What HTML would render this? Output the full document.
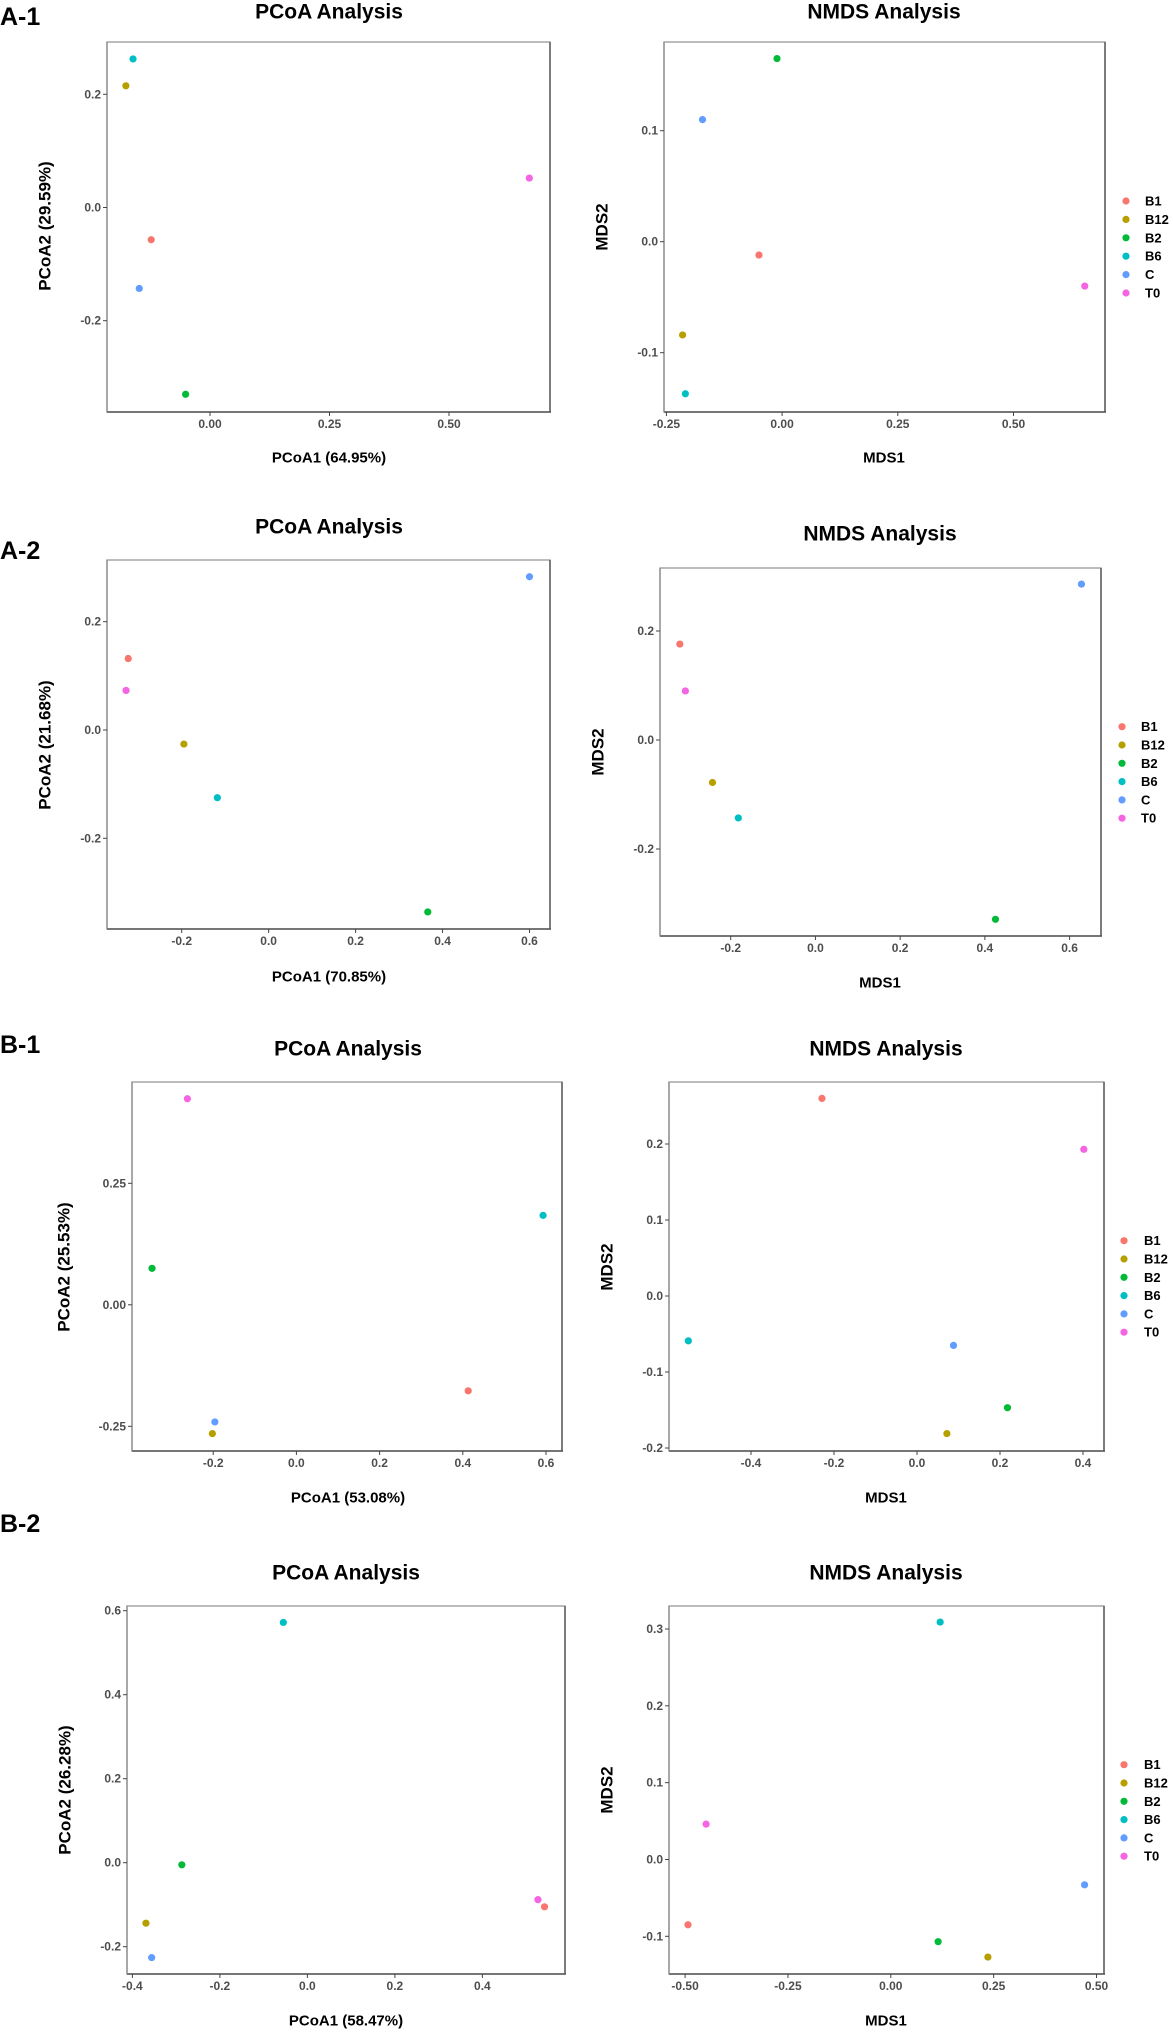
<!DOCTYPE html>
<html>
<head>
<meta charset="utf-8">
<style>
  html,body{margin:0;padding:0;background:#fff;}
  body{width:1173px;height:2032px;overflow:hidden;font-family:"Liberation Sans",Arial,sans-serif;}
  svg{display:block;}
</style>
</head>
<body>
<svg id="fig" width="1173" height="2032" viewBox="0 0 1173 2032" xmlns="http://www.w3.org/2000/svg"></svg>
<script>
// Groups and colours
const groups = ["B1","B12","B2","B6","C","T0"];
const colors = ["#F8766D","#B79F00","#00BA38","#00BFC4","#619CFF","#F564E3"];

// Data values, in group order: B1, B12, B2, B6, C, T0
const a1PcoaX = [-0.123,-0.176,-0.051,-0.161,-0.148,0.668];
const a1PcoaY = [-0.057,0.215,-0.330,0.2625,-0.143,0.052];
const a1NmdsX = [-0.050,-0.215,-0.011,-0.209,-0.172,0.654];
const a1NmdsY = [-0.012,-0.084,0.165,-0.137,0.110,-0.040];

const a2PcoaX = [-0.323,-0.195,0.366,-0.118,0.600,-0.328];
const a2PcoaY = [0.132,-0.026,-0.336,-0.125,0.283,0.073];
const a2NmdsX = [-0.320,-0.243,0.425,-0.182,0.628,-0.307];
const a2NmdsY = [0.176,-0.078,-0.329,-0.143,0.286,0.090];

const b1PcoaX = [0.413,-0.202,-0.347,0.593,-0.196,-0.262];
const b1PcoaY = [-0.177,-0.265,0.075,0.184,-0.241,0.424];
const b1NmdsX = [-0.229,0.072,0.218,-0.551,0.088,0.402];
const b1NmdsY = [0.260,-0.181,-0.147,-0.059,-0.065,0.193];

const b2PcoaX = [0.542,-0.369,-0.287,-0.055,-0.356,0.527];
const b2PcoaY = [-0.105,-0.144,-0.005,0.572,-0.226,-0.088];
const b2NmdsX = [-0.493,0.236,0.115,0.120,0.471,-0.449];
const b2NmdsY = [-0.085,-0.127,-0.107,0.309,-0.033,0.046];

// Tick labels
const a1PcoaXTicks = [0, 0.25, 0.5];       const a1PcoaXLabels = ["0.00","0.25","0.50"];
const a1PcoaYTicks = [-0.2, 0, 0.2];        const a1PcoaYLabels = ["-0.2","0.0","0.2"];
const a1NmdsXTicks = [-0.25, 0, 0.25, 0.5]; const a1NmdsXLabels = ["-0.25","0.00","0.25","0.50"];
const a1NmdsYTicks = [-0.1, 0, 0.1];        const a1NmdsYLabels = ["-0.1","0.0","0.1"];
const a2PcoaXTicks = [-0.2,0,0.2,0.4,0.6];  const a2PcoaXLabels = ["-0.2","0.0","0.2","0.4","0.6"];
const a2PcoaYTicks = [-0.2,0,0.2];          const a2PcoaYLabels = ["-0.2","0.0","0.2"];
const a2NmdsXTicks = [-0.2,0,0.2,0.4,0.6];  const a2NmdsXLabels = ["-0.2","0.0","0.2","0.4","0.6"];
const a2NmdsYTicks = [-0.2,0,0.2];          const a2NmdsYLabels = ["-0.2","0.0","0.2"];
const b1PcoaXTicks = [-0.2,0,0.2,0.4,0.6];  const b1PcoaXLabels = ["-0.2","0.0","0.2","0.4","0.6"];
const b1PcoaYTicks = [-0.25,0,0.25];        const b1PcoaYLabels = ["-0.25","0.00","0.25"];
const b1NmdsXTicks = [-0.4,-0.2,0,0.2,0.4]; const b1NmdsXLabels = ["-0.4","-0.2","0.0","0.2","0.4"];
const b1NmdsYTicks = [-0.2,-0.1,0,0.1,0.2]; const b1NmdsYLabels = ["-0.2","-0.1","0.0","0.1","0.2"];
const b2PcoaXTicks = [-0.4,-0.2,0,0.2,0.4]; const b2PcoaXLabels = ["-0.4","-0.2","0.0","0.2","0.4"];
const b2PcoaYTicks = [-0.2,0,0.2,0.4,0.6];  const b2PcoaYLabels = ["-0.2","0.0","0.2","0.4","0.6"];
const b2NmdsXTicks = [-0.5,-0.25,0,0.25,0.5]; const b2NmdsXLabels = ["-0.50","-0.25","0.00","0.25","0.50"];
const b2NmdsYTicks = [-0.1,0,0.1,0.2,0.3];  const b2NmdsYLabels = ["-0.1","0.0","0.1","0.2","0.3"];

const NS = "http://www.w3.org/2000/svg";
const svg = document.getElementById("fig");
function mk(tag, attrs, parent){
  const e = document.createElementNS(NS, tag);
  for (const k in attrs) e.setAttribute(k, attrs[k]);
  (parent||svg).appendChild(e);
  return e;
}
function txt(parent, x, y, s, size, weight, fill, anchor, extra){
  const t = mk("text", Object.assign({x:x, y:y, "font-size":size, "font-weight":weight, fill:fill, "text-anchor":anchor||"middle", "dominant-baseline":"central", "font-family":"Liberation Sans, Arial, sans-serif"}, extra||{}), parent);
  t.textContent = s;
  return t;
}
function scale(v0,p0,v1,p1){ const k=(p1-p0)/(v1-v0); return v=>p0+(v-v0)*k; }

const panels = [
  {id:"a1-pcoa", box:[107,42,550,412], xs:scale(0,210,0.5,449), ys:scale(0.2,94.3,-0.2,320.7),
   X:a1PcoaX, Y:a1PcoaY, xt:a1PcoaXTicks, xl:a1PcoaXLabels, yt:a1PcoaYTicks, yl:a1PcoaYLabels,
   title:"PCoA Analysis", titleXY:[329,12], xlab:"PCoA1 (64.95%)", xlabY:458, ylab:"PCoA2 (29.59%)", ylabXY:[45,226], legend:null},
  {id:"a1-nmds", box:[664,42,1105,412], xs:scale(-0.25,666.4,0.5,1013.5), ys:scale(0.1,130.7,-0.1,352.7),
   X:a1NmdsX, Y:a1NmdsY, xt:a1NmdsXTicks, xl:a1NmdsXLabels, yt:a1NmdsYTicks, yl:a1NmdsYLabels,
   title:"NMDS Analysis", titleXY:[884,12], xlab:"MDS1", xlabY:458, ylab:"MDS2", ylabXY:[602,227], legend:[1126,1145,201,18.4]},
  {id:"a2-pcoa", box:[107,560,550,929], xs:scale(-0.2,181.7,0.6,529.5), ys:scale(0.2,621.7,-0.2,838.3),
   X:a2PcoaX, Y:a2PcoaY, xt:a2PcoaXTicks, xl:a2PcoaXLabels, yt:a2PcoaYTicks, yl:a2PcoaYLabels,
   title:"PCoA Analysis", titleXY:[329,527], xlab:"PCoA1 (70.85%)", xlabY:977, ylab:"PCoA2 (21.68%)", ylabXY:[45,745], legend:null},
  {id:"a2-nmds", box:[660,568,1101,936], xs:scale(-0.2,730.7,0.6,1069.6), ys:scale(0.2,631,-0.2,849),
   X:a2NmdsX, Y:a2NmdsY, xt:a2NmdsXTicks, xl:a2NmdsXLabels, yt:a2NmdsYTicks, yl:a2NmdsYLabels,
   title:"NMDS Analysis", titleXY:[880,534], xlab:"MDS1", xlabY:983, ylab:"MDS2", ylabXY:[598,752], legend:[1122,1141,726.7,18.3]},
  {id:"b1-pcoa", box:[132,1082,562,1451], xs:scale(-0.2,213.2,0.6,546), ys:scale(0.25,1183.3,-0.25,1426.3),
   X:b1PcoaX, Y:b1PcoaY, xt:b1PcoaXTicks, xl:b1PcoaXLabels, yt:b1PcoaYTicks, yl:b1PcoaYLabels,
   title:"PCoA Analysis", titleXY:[348,1049], xlab:"PCoA1 (53.08%)", xlabY:1498, ylab:"PCoA2 (25.53%)", ylabXY:[64,1267], legend:null},
  {id:"b1-nmds", box:[669,1082,1104,1451], xs:scale(-0.4,751,0.4,1083), ys:scale(0.2,1144,-0.2,1448),
   X:b1NmdsX, Y:b1NmdsY, xt:b1NmdsXTicks, xl:b1NmdsXLabels, yt:b1NmdsYTicks, yl:b1NmdsYLabels,
   title:"NMDS Analysis", titleXY:[886,1049], xlab:"MDS1", xlabY:1498, ylab:"MDS2", ylabXY:[607,1267], legend:[1124,1144,1240.7,18.3]},
  {id:"b2-pcoa", box:[127,1606,565,1974], xs:scale(-0.4,132.4,0.4,482.4), ys:scale(0.6,1610.7,-0.2,1946.7),
   X:b2PcoaX, Y:b2PcoaY, xt:b2PcoaXTicks, xl:b2PcoaXLabels, yt:b2PcoaYTicks, yl:b2PcoaYLabels,
   title:"PCoA Analysis", titleXY:[346,1573], xlab:"PCoA1 (58.47%)", xlabY:2021, ylab:"PCoA2 (26.28%)", ylabXY:[65,1790], legend:null},
  {id:"b2-nmds", box:[669,1606,1104,1974], xs:scale(-0.5,685.1,0.5,1096.5), ys:scale(0.3,1629,-0.1,1936.3),
   X:b2NmdsX, Y:b2NmdsY, xt:b2NmdsXTicks, xl:b2NmdsXLabels, yt:b2NmdsYTicks, yl:b2NmdsYLabels,
   title:"NMDS Analysis", titleXY:[886,1573], xlab:"MDS1", xlabY:2021, ylab:"MDS2", ylabXY:[607,1790], legend:[1124,1144,1764.7,18.3]}
];

const letters = [["A-1",17],["A-2",551],["B-1",1045],["B-2",1524]];
letters.forEach(l=>{
  const t = txt(svg, 0, l[1], l[0], 25, "bold", "#000", "start");
  
  
});

panels.forEach(p=>{
  const g = mk("g", {});
  
  
  const [l,t,r,b] = p.box;
  const bg = mk("rect", {x:l, y:t, width:r-l, height:b-t, fill:"#fff", stroke:"#a0a0a0", "stroke-width":1.4}, g);
  
  
  const bl = mk("line", {x1:l, y1:b, x2:r+1, y2:b, stroke:"#555", "stroke-width":1.6}, g);
  
  
  const rl = mk("line", {x1:r, y1:t, x2:r, y2:b, stroke:"#555", "stroke-width":1.4}, g);
  
  
  const ll = mk("line", {x1:l, y1:t, x2:l, y2:b, stroke:"#888", "stroke-width":1.2}, g);
  
  

  p.xt.forEach((v,i)=>{
    const x = p.xs(v);
    const tk = mk("line", {x1:x, y1:b, x2:x, y2:b+4, stroke:"#444", "stroke-width":1}, g);
    
    
    const lb = txt(g, x, b+12, p.xl[i], 12, "bold", "#4d4d4d");
    
    
  });
  p.yt.forEach((v,i)=>{
    const y = p.ys(v);
    const tk = mk("line", {x1:l-4, y1:y, x2:l, y2:y, stroke:"#444", "stroke-width":1}, g);
    
    
    const lb = txt(g, l-6, y, p.yl[i], 12, "bold", "#4d4d4d", "end");
    
    
  });
  p.X.forEach((xv,i)=>{
    const c = mk("circle", {cx:p.xs(xv), cy:p.ys(p.Y[i]), r:3.6, fill:colors[i]}, g);
    
    
  });
  const ti = txt(g, p.titleXY[0], p.titleXY[1], p.title, 21, "bold", "#000");
  
  
  const xt = txt(g, p.titleXY[0], p.xlabY, p.xlab, 15, "bold", "#000");
  
  
  const yt = txt(g, p.ylabXY[0], p.ylabXY[1], p.ylab, 17, "bold", "#000", "middle", {transform:"rotate(-90 "+p.ylabXY[0]+" "+p.ylabXY[1]+")"});
  
  

  if (p.legend){
    const [cx, tx, y0, dy] = p.legend;
    const lg = mk("g", {}, g);
    
    
    groups.forEach((gname,i)=>{
      const e = mk("g", {}, lg);
      
      
      mk("circle", {cx:cx, cy:y0+i*dy, r:3.6, fill:colors[i]}, e);
      txt(e, tx, y0+i*dy, gname, 13, "bold", "#000", "start");
    });
  }
});
</script>
</body>
</html>
